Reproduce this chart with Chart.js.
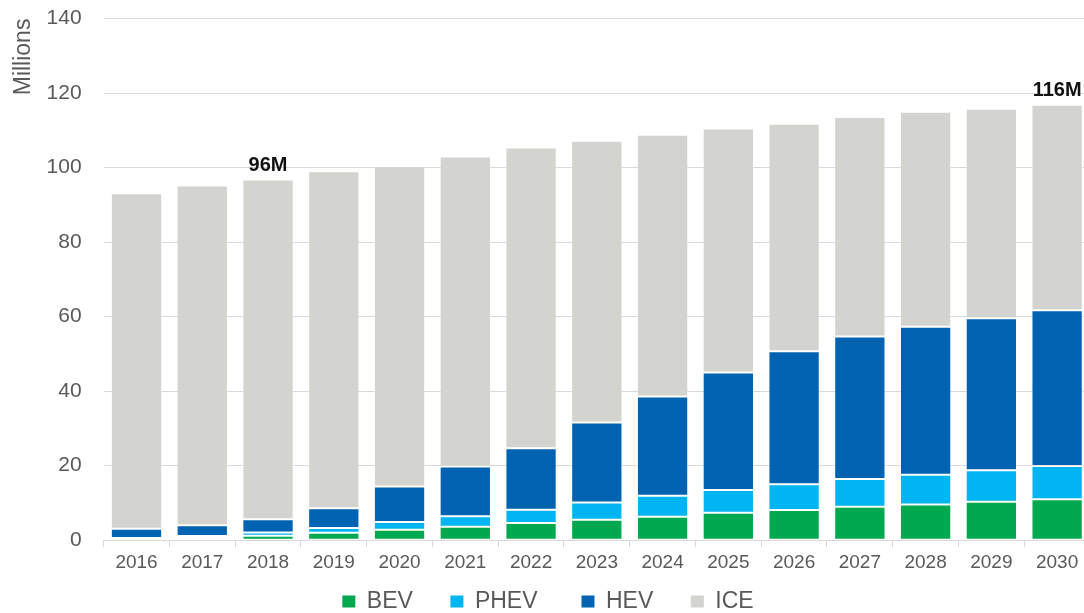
<!DOCTYPE html>
<html>
<head>
<meta charset="utf-8">
<script src="https://cdn.jsdelivr.net/npm/chart.js@4.4.1/dist/chart.umd.min.js"></script>
<style>
  html, body { margin: 0; padding: 0; background: #fff; overflow: hidden; }
  #wrap { width: 1090px; height: 639px; margin-top: -16px; }
</style>
</head>
<body>
<div id="wrap"><canvas id="myChart"></canvas></div>
<script>
const years = ["2016", "2017", "2018", "2019", "2020", "2021", "2022", "2023", "2024", "2025", "2026", "2027", "2028", "2029", "2030"];
const bev = [0.2, 0.6, 1.2, 2.0, 2.8, 3.6, 4.6, 5.5, 6.3, 7.4, 8.1, 9.0, 9.6, 10.3, 11.0];
const phev = [0.4, 0.5, 0.9, 1.3, 2.1, 2.8, 3.6, 4.6, 5.6, 6.1, 6.9, 7.4, 8.0, 8.5, 8.9];
const hev = [2.5, 2.9, 3.5, 5.3, 9.5, 13.4, 16.5, 21.5, 26.7, 31.5, 35.7, 38.3, 39.7, 40.8, 41.8];
const ice = [90.0, 91.2, 91.2, 90.4, 86.0, 83.2, 80.7, 75.6, 70.2, 65.5, 61.1, 58.9, 57.7, 56.2, 55.2];
const yTicks = [0, 20, 40, 60, 80, 100, 120, 140];
const calloutYears = ["2018", "2030"];
const calloutText = ["96M", "116M"];

const FONT = "'Liberation Sans', Arial, sans-serif";
const legendGap = ["    ", "     ", "    ", ""];

// labels on top of selected stacks
const callouts = {
  id: "callouts",
  afterDatasetsDraw(chart) {
    const ctx = chart.ctx;
    const x = chart.scales.x;
    const y = chart.scales.y;
    ctx.save();
    ctx.font = "bold 20px " + FONT;
    ctx.fillStyle = "#111";
    ctx.textAlign = "center";
    ctx.textBaseline = "alphabetic";
    calloutYears.forEach((yr, i) => {
      const idx = years.indexOf(yr);
      const total = bev[idx] + phev[idx] + hev[idx] + ice[idx];
      ctx.fillText(calloutText[i], x.getPixelForValue(idx), y.getPixelForValue(total) - 9);
    });
    ctx.restore();
  },
};

function ds(label, data, color) {
  return {
    label: label,
    data: data,
    backgroundColor: color,
    borderColor: "rgba(255,255,255,0.35)",
    borderWidth: 1,
    borderSkipped: false,
    barPercentage: 0.78,
    categoryPercentage: 1,
  };
}

new Chart(document.getElementById("myChart"), {
  type: "bar",
  data: {
    labels: years,
    datasets: [
      ds("BEV", bev, "#00a84f"),
      ds("PHEV", phev, "#00b5f1"),
      ds("HEV", hev, "#0063b1"),
      ds("ICE", ice, "#d3d3cf"),
    ],
  },
  options: {
    responsive: true,
    maintainAspectRatio: false,
    animation: false,
    layout: { padding: { top: 0, left: 6, right: 0, bottom: 0 } },
    plugins: {
      tooltip: { enabled: false },
      legend: {
        position: "bottom",
        labels: {
          boxWidth: 13,
          boxHeight: 12,
          padding: 12,
          color: "#595959",
          font: { family: FONT, size: 23 },
          generateLabels(chart) {
            const items = Chart.defaults.plugins.legend.labels.generateLabels(chart);
            items.forEach((it, i) => {
              it.lineWidth = 0;
              it.text = it.text + legendGap[i];
            });
            return items;
          },
        },
      },
    },
    scales: {
      x: {
        stacked: true,
        grid: { display: true, drawOnChartArea: false, drawTicks: true, tickLength: 7, color: "#d9d9d9", offset: true },
        border: { display: true, color: "#d9d9d9" },
        ticks: { color: "#595959", font: { family: FONT, size: 19 }, padding: 4 },
      },
      y: {
        stacked: true,
        min: 0,
        max: 140,
        afterBuildTicks(axis) {
          axis.ticks = yTicks.map((v) => ({ value: v }));
        },
        grid: { color: "#d9d9d9", drawTicks: false },
        border: { display: false },
        ticks: { color: "#595959", font: { family: FONT, size: 21 }, padding: 22 },
        title: {
          display: true,
          text: "Millions",
          align: "end",
          color: "#595959",
          font: { family: FONT, size: 23 },
          padding: { top: 4, bottom: -13 },
        },
      },
    },
  },
  plugins: [callouts],
});
</script>
</body>
</html>
